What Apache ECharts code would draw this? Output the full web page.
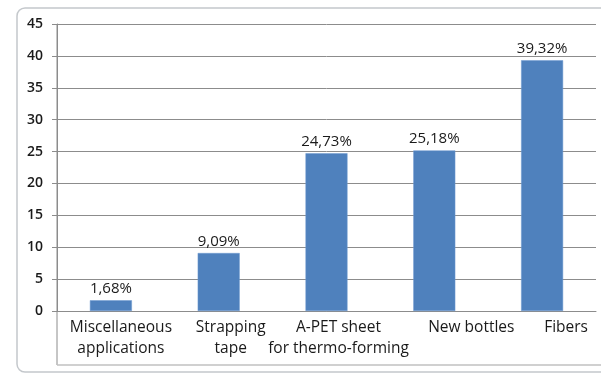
<!DOCTYPE html>
<html><head><meta charset="utf-8">
<script src="https://cdn.jsdelivr.net/npm/echarts@6/dist/echarts.min.js"></script>
<style>html,body{margin:0;padding:0;background:#fff}#c{width:601px;height:376px}</style>
</head><body><div id="c"></div>
<script>
const categories = ["Miscellaneous\napplications", "Strapping\ntape", "A-PET sheet\nfor thermo-forming", "New bottles", "Fibers"];
const values = [1.68, 9.09, 24.73, 25.18, 39.32];
const valueLabels = ["1,68%", "9,09%", "24,73%", "25,18%", "39,32%"];
const labelShift = [20, 24, 24, 74, 48];

const chart = echarts.init(document.getElementById('c'), null, {renderer: 'canvas'});
chart.setOption({
  animation: false,
  backgroundColor: '#fff',
  grid: {left: 57, right: 5, top: 24, bottom: 65, containLabel: false},
  xAxis: {
    type: 'category',
    data: categories.map((c, i) => ({value: c, textStyle: {padding: [0, 0, 0, labelShift[i]]}})),
    axisLine: {show: true, lineStyle: {color: '#8c8c8c', width: 1}},
    axisTick: {show: false},
    axisLabel: {interval: 0, margin: 6, fontFamily: 'Open Sans', fontSize: 15.5, lineHeight: 21, color: '#1a1a1a'}
  },
  yAxis: {
    type: 'value', min: 0, max: 45, interval: 5,
    axisLine: {show: true, lineStyle: {color: '#8c8c8c'}},
    axisTick: {show: true, length: 5, lineStyle: {color: '#8c8c8c'}},
    axisLabel: {margin: 14, fontFamily: 'Open Sans', fontSize: 14, fontWeight: 600, color: '#1a1a1a'},
    splitLine: {show: true, lineStyle: {color: '#8c8c8c', width: 1}}
  },
  series: [{
    type: 'bar',
    data: values,
    barWidth: 42,
    itemStyle: {color: '#4F81BD', borderColor: '#6f9ad0', borderWidth: 0.5},
    label: {
      show: true, position: 'top', distance: 4,
      fontFamily: 'Open Sans', fontSize: 15, color: '#1a1a1a',
      formatter: p => valueLabels[p.dataIndex]
    }
  }],
  graphic: [
    {type: 'rect', shape: {x: 17, y: 8, width: 600, height: 364, r: 8}, style: {fill: 'none', stroke: '#c4c8cc', lineWidth: 1.5}, z: 0},
    {type: 'line', shape: {x1: 57, y1: 24, x2: 57, y2: 365}, style: {stroke: '#8c8c8c', lineWidth: 1}, z: 10},
    {type: 'line', shape: {x1: 57, y1: 365, x2: 601, y2: 365}, style: {stroke: '#c0c0c0', lineWidth: 1.5}, z: 10}
  ]
});
</script></body></html>
